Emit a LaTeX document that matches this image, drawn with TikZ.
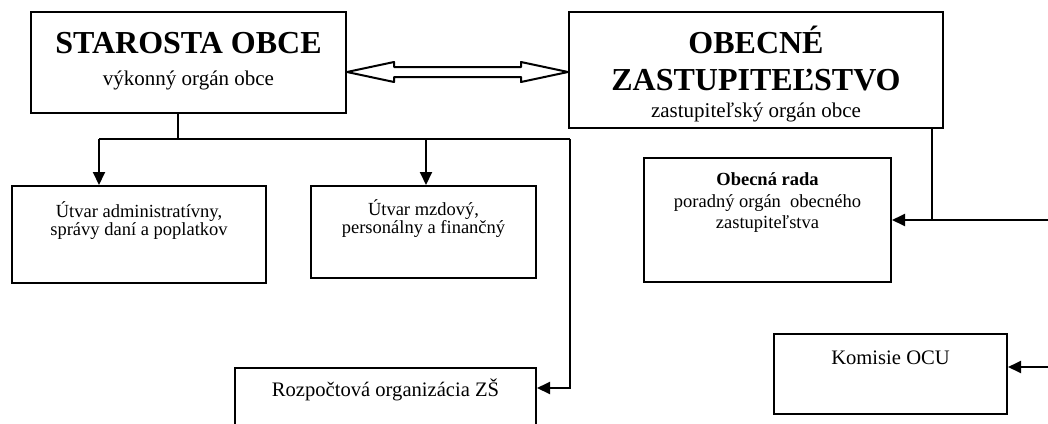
\documentclass[tikz,border=0pt]{standalone}
\usepackage{fontspec}
\setmainfont{Liberation Serif}
\usetikzlibrary{arrows.meta,calc}
\begin{document}
\begin{tikzpicture}[x=1pt,y=-1pt,
  box/.style={draw,line width=2pt,inner sep=0pt},
  conn/.style={line width=2pt},
  arr/.style={conn,-{Triangle[length=13pt,width=12pt]}},
  txt/.style={anchor=base,inner sep=0pt},
  bigtxt/.style={txt,font=\fontsize{32}{34}\selectfont\bfseries},
  subtxt/.style={txt,font=\fontsize{21}{23}\selectfont},
  smalltxt/.style={txt,font=\fontsize{18.5}{20}\selectfont},
  smallbold/.style={txt,font=\fontsize{18.5}{20}\selectfont\bfseries},
  midtxt/.style={txt,font=\fontsize{20.6}{22}\selectfont}]
\useasboundingbox (0,0) rectangle (1048,423);
\fill[white] (0,0) rectangle (1048,423);

% boxes
\node[box,minimum width=315pt,minimum height=101pt] (s) at (188.5,62.5) {};
\node[box,minimum width=374pt,minimum height=116pt] (oz) at (756,70) {};
\node[box,minimum width=254pt,minimum height=97pt] (u1) at (139,234.5) {};
\node[box,minimum width=225pt,minimum height=92pt] (u2) at (423.5,232) {};
\node[box,minimum width=247pt,minimum height=124pt] (rada) at (767.5,220) {};
\begin{scope}
  \clip (0,0) rectangle (1048,423);
  \node[box,minimum width=301pt,minimum height=110pt] (rz) at (385.5,423) {};
\end{scope}
\node[box,minimum width=233pt,minimum height=80pt] (k) at (890.5,374) {};

% texts
\node[bigtxt] (st1) at (188.5,53) {STAROSTA OBCE};
\node[subtxt] (st2) at (188.5,85) {výkonný orgán obce};
\node[bigtxt] (oz1) at (756,53) {OBECNÉ};
\node[bigtxt] (oz2) at (756,90) {ZASTUPITEĽSTVO};
\node[subtxt] (oz3) at (756,117) {zastupiteľský orgán obce};
\node[smalltxt] (u1a) at (139,217) {Útvar administratívny,};
\node[smalltxt] (u1b) at (139,235) {správy daní a poplatkov};
\node[smalltxt] (u2a) at (423.5,215) {Útvar mzdový,};
\node[smalltxt] (u2b) at (423.5,233) {personálny a finančný};
\node[smallbold] (ra) at (767.5,185) {Obecná rada};
\node[smalltxt] (rb) at (767.5,207) {poradný orgán\ \ obecného};
\node[smalltxt] (rc) at (767.5,228) {zastupiteľstva};
\node[midtxt] (rzt) at (385.5,396) {Rozpočtová organizácia ZŠ};
\node[midtxt] (kt) at (890.5,364) {Komisie OCU};

% double arrow between starosta and zastupitelstvo
\coordinate (dl) at ($(s.east)+(0,9.5)$);
\coordinate (dr) at (oz.west |- dl);
\draw[line width=2pt,line join=round] (dl) -- ++(47,-10) -- ++(0,5)
  -- ($(dr)+(-47,-5)$) -- ++(0,-5) -- (dr) -- ++(-47,10) -- ++(0,-5)
  -- ($(dl)+(47,5)$) -- ++(0,5) -- cycle;

% starosta connectors
\coordinate (j) at (178,139);
\coordinate (cl) at (99,139);
\coordinate (cr) at (570,139);
\coordinate (cm) at (426,139);
\draw[conn] (s.south -| j) -- (j);
\draw[conn] (cl) -- (cr);
\draw[arr] (cl) -- (cl |- u1.north);
\draw[arr] (cm) -- (cm |- u2.north);
\coordinate (rzin) at ($(rz.north east)+(0,21)$);
\draw[arr] (cr) -- (cr |- rzin) -- (rzin);

% zastupitelstvo connectors
\coordinate (ozj) at ($(rada.east)+(40,0)$);
\coordinate (re) at (1048,220);
\draw[conn] (oz.south -| ozj) -- (ozj);
\draw[arr] (re) -- (rada.east);
\coordinate (ke) at (1048,367);
\draw[arr] (ke) -- (k.east |- ke);
\end{tikzpicture}
\end{document}
